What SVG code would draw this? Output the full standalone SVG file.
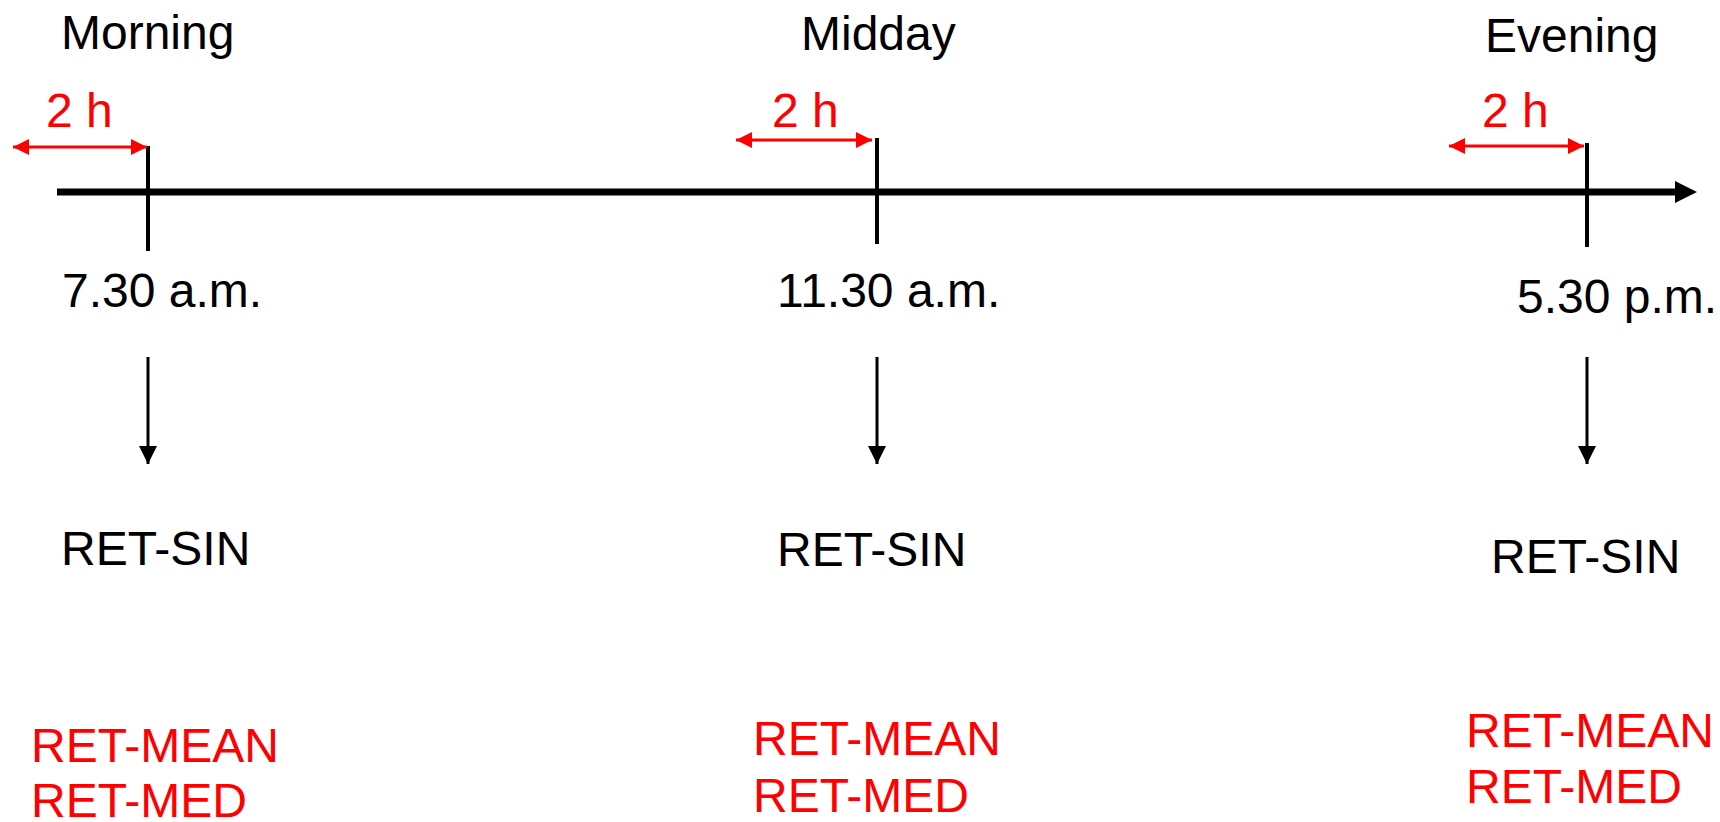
<svg xmlns="http://www.w3.org/2000/svg" width="1720" height="822" viewBox="0 0 1720 822">
<style>
text { font-family: "Liberation Sans", Arial, sans-serif; font-size: 48px; fill: #000; }
.red { fill: #ff0000; }
.h2 { font-size: 48px; fill: #ff0000; }
.tick { stroke: #000; stroke-width: 4; }
.down { stroke: #000; stroke-width: 3; fill: none; marker-end: url(#blk); }
.span { stroke: #ff0000; stroke-width: 3; fill: none; marker-start: url(#redh); marker-end: url(#redh); }
</style>
<defs>
<marker id="blk" markerUnits="userSpaceOnUse" markerWidth="18" markerHeight="18" refX="18" refY="9" orient="auto">
<path d="M0,0 L18,9 L0,18 z" fill="#000"/>
</marker>
<marker id="redh" markerUnits="userSpaceOnUse" markerWidth="17" markerHeight="16" refX="16" refY="8" orient="auto-start-reverse">
<path d="M0,0 L16,8 L0,16 z" fill="#ff0000"/>
</marker>
</defs>
<g id="connectors">
<line x1="57" y1="192" x2="1677" y2="192" stroke="#000" stroke-width="7"/>
<polygon points="1675,181 1697,192 1675,203" fill="#000"/>
<line class="tick" x1="148" y1="146" x2="148" y2="251"/>
<line class="tick" x1="877" y1="138" x2="877" y2="244"/>
<line class="tick" x1="1587" y1="143" x2="1587" y2="247"/>
<line class="span" x1="13" y1="147" x2="147" y2="147"/>
<line class="span" x1="736" y1="140" x2="872" y2="140"/>
<line class="span" x1="1449" y1="146" x2="1584" y2="146"/>
<line class="down" x1="148" y1="357" x2="148" y2="464"/>
<line class="down" x1="877" y1="357" x2="877" y2="464"/>
<line class="down" x1="1587" y1="357" x2="1587" y2="464"/>
</g>
<g id="morning">
<text x="61" y="49">Morning</text>
<text class="h2" x="46" y="127">2 h</text>
<text x="62" y="307">7.30 a.m.</text>
<text x="61" y="565">RET-SIN</text>
<text class="red" x="31" y="762">RET-MEAN</text>
<text class="red" x="31" y="817">RET-MED</text>
</g>
<g id="midday">
<text x="801" y="50">Midday</text>
<text class="h2" x="772" y="127">2 h</text>
<text x="777" y="307">11.30 a.m.</text>
<text x="777" y="566">RET-SIN</text>
<text class="red" x="753" y="755">RET-MEAN</text>
<text class="red" x="753" y="812">RET-MED</text>
</g>
<g id="evening">
<text x="1485" y="52">Evening</text>
<text class="h2" x="1482" y="127">2 h</text>
<text x="1517" y="313">5.30 p.m.</text>
<text x="1491" y="573">RET-SIN</text>
<text class="red" x="1466" y="747">RET-MEAN</text>
<text class="red" x="1466" y="803">RET-MED</text>
</g>
</svg>
